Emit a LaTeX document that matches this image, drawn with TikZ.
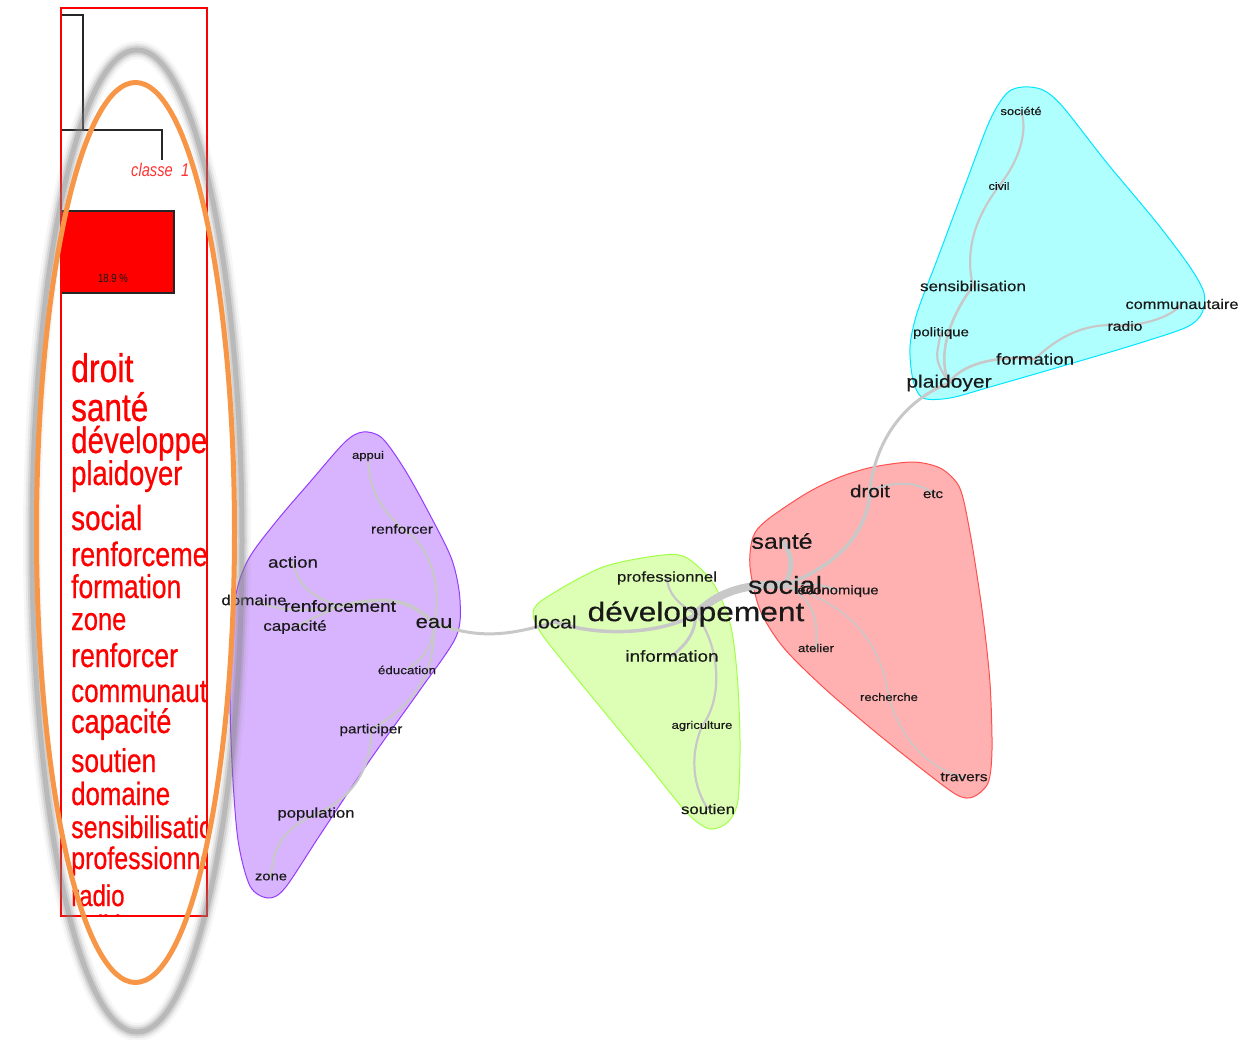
\documentclass[tikz,border=0pt]{standalone}
\usepackage{fontspec}
\setmainfont{Liberation Sans}
\newfontfamily\heavyfont{Liberation Sans}[FakeBold=0.7]
\newfontfamily\midfont{Liberation Sans}[FakeBold=0.3]
\usepackage{graphicx}
\definecolor{edgecol}{RGB}{200,200,200}
\definecolor{pfill}{RGB}{216,180,254}
\definecolor{pline}{RGB}{150,60,255}
\definecolor{gfill}{RGB}{221,255,181}
\definecolor{gline}{RGB}{160,255,70}
\definecolor{rfill}{RGB}{255,176,176}
\definecolor{rline}{RGB}{255,80,80}
\definecolor{cfill}{RGB}{176,255,255}
\definecolor{cline}{RGB}{0,230,255}
\definecolor{orangeel}{RGB}{247,150,70}
\definecolor{txt}{RGB}{25,25,25}
\pgfdeclarelayer{bg}
\pgfdeclarelayer{edges}
\pgfdeclarelayer{fg}
\pgfsetlayers{bg,edges,main,fg}
\newcommand{\gl}[2]{\midfont\fontsize{#1}{#1}\selectfont\scalebox{1}[0.85]{#2}}
\newcommand{\wl}[2]{\heavyfont\fontsize{#1}{#1}\selectfont\scalebox{1}[1.25]{#2}}
\begin{document}
\begin{tikzpicture}[x=1pt,y=-1pt,
  lbl/.style={inner sep=0pt, text=txt},
  edge/.style={draw=edgecol, line width=2.2pt, line cap=round},
  word/.style={anchor=base west, inner sep=0pt, text=red},
  blob/.style={line width=1pt}]
\useasboundingbox (0,0) rectangle (1242,1040);

% ---------------- left panel ----------------
\draw[black!85, line width=1.3pt] (61,15) -- (83,15) -- (83,130);
\draw[black!85, line width=1.3pt] (61,130) -- (162,130) -- (162,160);
\node[anchor=base west, inner sep=0pt, text=red!80] (cl) at (131,177) {\normalfont\itshape\fontsize{14.7}{14.7}\selectfont\scalebox{1}[1.25]{classe\ \ 1}};
\draw[black!85, fill=red, line width=1.2pt] (61,211) rectangle (174,293);
\node[lbl, anchor=base] (pct) at (113,283) {\normalfont\fontsize{9.5}{9.5}\selectfont\scalebox{1}[1.25]{18.9 \%}};
\begin{scope}
\clip (61,8) rectangle (207,916);
\node[word] (w1) at (71,382) {\wl{32}{droit}};
\node[word] (w2) at (71,421) {\wl{31.5}{santé}};
\node[word] (w3) at (71,453) {\wl{29.5}{développement}};
\node[word] (w4) at (71,485) {\wl{27.4}{plaidoyer}};
\node[word] (w5) at (71,530) {\wl{27.8}{social}};
\node[word] (w6) at (71,566) {\wl{27}{renforcement}};
\node[word] (w7) at (71,598) {\wl{26.4}{formation}};
\node[word] (w8) at (71,630) {\wl{25.4}{zone}};
\node[word] (w9) at (71,667) {\wl{26.7}{renforcer}};
\node[word] (w10) at (71,702) {\wl{26}{communautaire}};
\node[word] (w11) at (71,733) {\wl{26.9}{capacité}};
\node[word] (w12) at (71,772) {\wl{26.4}{soutien}};
\node[word] (w13) at (71,805) {\wl{25.8}{domaine}};
\node[word] (w14) at (71,838) {\wl{25}{sensibilisation}};
\node[word] (w15) at (71,869) {\wl{25}{professionnel}};
\node[word] (w16) at (71,906) {\wl{24}{radio}};
\node[word] (w17) at (71,936) {\wl{24}{politique}};
\end{scope}
\draw[red, line width=1.5pt] (61,8) rectangle (207,916);

% ---------------- blobs ----------------
\begin{pgfonlayer}{bg}
\fill[white] (0,0) rectangle (1242,1040);
\filldraw[blob, fill=pfill, draw=pline] plot[smooth cycle, tension=0.5] coordinates {
 (363,432) (382,438) (405,470) (430,515) (452,560) (460,600) (456,637) (420,690) (370,760) (320,835) (285,888) (268,898) (250,886) (238,840) (232,763) (230,680) (235,600) (248,560) (275,523) (310,482) (345,442)};
\filldraw[blob, fill=gfill, draw=gline] plot[smooth cycle, tension=0.5] coordinates {
 (663,555) (687,558) (713,583) (730,623) (737,673) (740,740) (738,800) (728,822) (710,829) (688,814) (652,770) (611,720) (570,670) (541,633) (533,612) (547,597) (603,567)};
\filldraw[blob, fill=rfill, draw=rline] plot[smooth cycle, tension=0.5] coordinates {
 (873,467) (913,462) (940,468) (957,483) (964,502) (973,550) (983,617) (990,683) (992,750) (988,783) (973,797) (957,795) (923,770) (873,730) (823,687) (783,647) (760,610) (750,567) (753,537) (767,520) (807,493) (840,477)};
\filldraw[blob, fill=cfill, draw=cline] plot[smooth cycle, tension=0.5] coordinates {
 (1023,87) (1043,90) (1063,107) (1107,163) (1157,223) (1190,267) (1204,293) (1202,313) (1187,327) (1140,343) (1073,363) (990,387) (950,398) (923,398) (913,380) (910,347) (917,313) (937,260) (967,180) (990,120) (1007,93)};
\end{pgfonlayer}

% ---------------- labels ----------------
% purple
\node[lbl] (appui) at (368,456) {\gl{13}{appui}};
\node[lbl] (renforcerP) at (402,529) {\gl{15.5}{renforcer}};
\node[lbl] (action) at (293,562) {\gl{18.7}{action}};
\node[lbl] (domaineP) at (254,600) {\gl{17}{domaine}};
\node[lbl] (renforcement) at (340,606) {\gl{19}{renforcement}};
\node[lbl] (capaciteP) at (295,627) {\gl{17}{capacité}};
\node[lbl] (eau) at (434,623) {\gl{22}{eau}};
\node[lbl] (education) at (407,670) {\gl{13.4}{éducation}};
\node[lbl] (participer) at (371,730) {\gl{15.3}{participer}};
\node[lbl] (population) at (316,814) {\gl{16.7}{population}};
\node[lbl] (zoneP) at (271,877) {\gl{14.8}{zone}};
% green
\node[lbl] (local) at (555,622) {\gl{21}{local}};
\node[lbl] (professionnel) at (667,578) {\gl{16.8}{professionnel}};
\node[lbl] (developpement) at (696,614) {\gl{31.7}{développement}};
\node[lbl] (information) at (672,656) {\gl{18.8}{information}};
\node[lbl] (agriculture) at (702,726) {\gl{13}{agriculture}};
\node[lbl] (soutien) at (708,809) {\gl{16.7}{soutien}};
% red
\node[lbl] (droit) at (870,491) {\gl{20.5}{droit}};
\node[lbl] (etc) at (933,494) {\gl{15}{etc}};
\node[lbl] (sante) at (782,541) {\gl{25}{santé}};
\node[lbl] (social) at (785,585) {\gl{29}{social}};
\node[lbl] (economique) at (838,591) {\gl{14.9}{économique}};
\node[lbl] (atelier) at (816,648) {\gl{13.2}{atelier}};
\node[lbl] (recherche) at (889,697) {\gl{13}{recherche}};
\node[lbl] (travers) at (964,777) {\gl{15.4}{travers}};
% cyan
\node[lbl] (societe) at (1021,111) {\gl{13}{société}};
\node[lbl] (civil) at (999,186) {\gl{12.6}{civil}};
\node[lbl] (sensibilisation) at (973,286) {\gl{17}{sensibilisation}};
\node[lbl] (communautaire) at (1182,304) {\gl{16.4}{communautaire}};
\node[lbl] (radio) at (1125,326) {\gl{15.7}{radio}};
\node[lbl] (politique) at (941,333) {\gl{15}{politique}};
\node[lbl] (formationC) at (1035,359) {\gl{18.7}{formation}};
\node[lbl] (plaidoyer) at (949,383) {\gl{21}{plaidoyer}};

% ---------------- edges ----------------
\begin{pgfonlayer}{edges}
\draw[edge] (appui.center) .. controls (368,495) and (388,515) .. (renforcerP.center);
\draw[edge] (renforcerP.center) .. controls (432,545) and (442,590) .. (eau.center);
\draw[edge] (action.center) .. controls (298,590) and (320,600) .. (renforcement.center);
\draw[edge] (domaineP.center) .. controls (280,612) and (305,612) .. (renforcement.center);
\draw[edge] (capaciteP.center) .. controls (320,615) .. (renforcement.center);
\draw[edge, line width=3.5pt] (renforcement.center) .. controls (390,595) and (410,600) .. (eau.center);
\draw[edge] (eau.center) .. controls (433,650) and (420,660) .. (education.center);
\draw[edge] (eau.center) .. controls (435,670) and (420,700) .. (participer.center);
\draw[edge] (participer.center) .. controls (372,770) and (350,800) .. (population.center);
\draw[edge] (population.center) .. controls (280,830) and (273,850) .. (zoneP.center);
\draw[edge, line width=3pt] (eau.center) .. controls (480,640) and (510,635) .. (local.center);
\draw[edge, line width=3.5pt] (local.center) .. controls (610,640) and (670,630) .. (developpement.center);
\draw[edge] (professionnel.center) .. controls (668,595) and (680,605) .. (developpement.center);
\draw[edge, line width=3pt] (developpement.center) .. controls (695,635) and (685,645) .. (information.center);
\draw[edge] (developpement.center) .. controls (722,650) and (722,700) .. (agriculture.center);
\draw[edge] (agriculture.center) .. controls (688,760) and (695,790) .. (soutien.center);
\draw[edge, line width=8pt] (developpement.center) .. controls (715,595) and (740,583) .. (social.center);
\draw[edge, line width=5pt] (social.center) .. controls (795,565) and (790,550) .. (sante.center);
\draw[edge, line width=3.5pt] (social.center) .. controls (840,565) and (868,530) .. (droit.center);
\draw[edge, line width=2pt] (droit.center) .. controls (895,480) and (920,482) .. (etc.center);
\draw[edge, line width=2pt] (social.center) .. controls (810,582) and (825,585) .. (economique.center);
\draw[edge, line width=2pt] (social.center) .. controls (815,600) and (818,620) .. (atelier.center);
\draw[edge, line width=1.5pt] (social.center) .. controls (850,605) and (880,640) .. (recherche.center);
\draw[edge, line width=1.5pt] (recherche.center) .. controls (900,740) and (930,770) .. (travers.center);
\draw[edge, line width=3pt] (droit.center) .. controls (875,440) and (905,400) .. (plaidoyer.center);
\draw[edge, line width=2.6pt] (plaidoyer.center) .. controls (935,350) and (955,310) .. (sensibilisation.center);
\draw[edge] (sensibilisation.center) .. controls (962,240) and (985,205) .. (civil.center);
\draw[edge] (civil.center) .. controls (1020,160) and (1028,130) .. (societe.center);
\draw[edge] (plaidoyer.center) .. controls (935,360) .. (politique.center);
\draw[edge, line width=2.6pt] (plaidoyer.center) .. controls (960,365) and (995,355) .. (formationC.center);
\draw[edge] (formationC.center) .. controls (1065,330) and (1095,322) .. (radio.center);
\draw[edge] (radio.center) .. controls (1160,322) and (1175,312) .. (communautaire.center);
\end{pgfonlayer}

% ---------------- ellipses on top ----------------
\begin{pgfonlayer}{fg}
\draw[gray, line width=18pt, opacity=0.07] (137,541) ellipse [x radius=105, y radius=491];
\draw[gray, line width=13pt, opacity=0.12] (137,541) ellipse [x radius=105, y radius=491];
\draw[gray, line width=9pt, opacity=0.2] (137,541) ellipse [x radius=105, y radius=491];
\draw[gray, line width=5pt, opacity=0.3] (137,541) ellipse [x radius=105, y radius=491];
\draw[orangeel, line width=5pt] (135.5,532.5) ellipse [x radius=99, y radius=450];
\end{pgfonlayer}
\end{tikzpicture}
\end{document}
